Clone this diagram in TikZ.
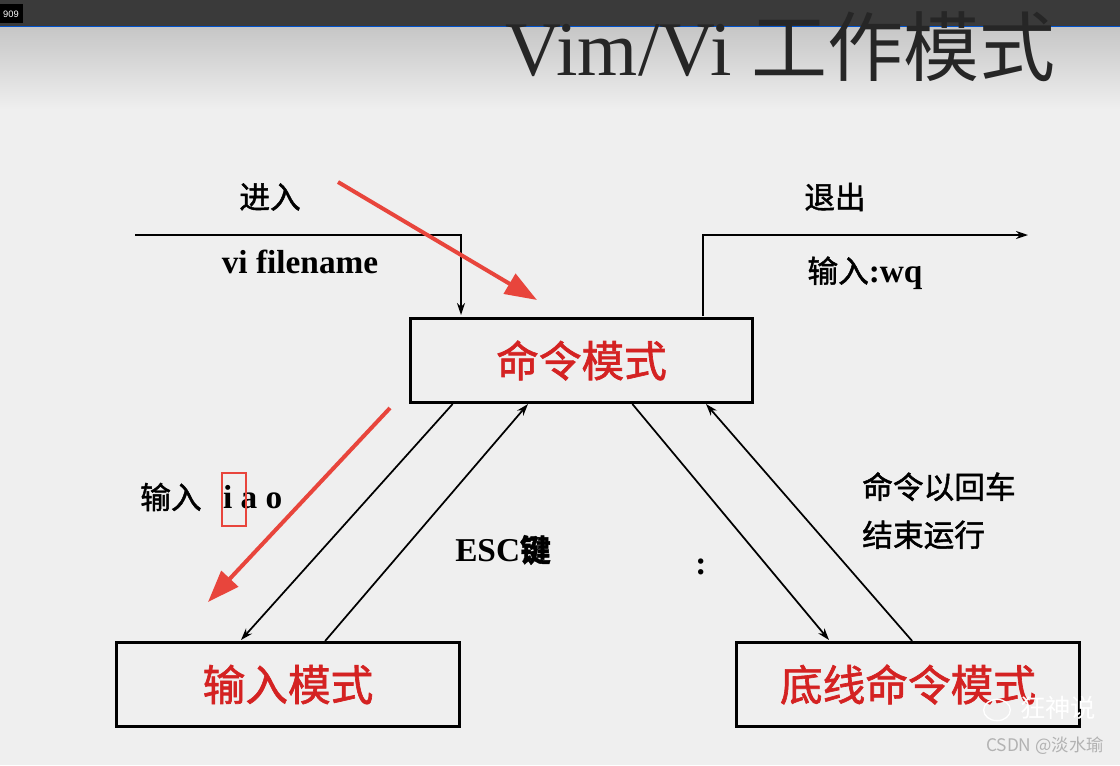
\documentclass[tikz,border=0pt]{standalone}
\usepackage{fontspec}
\setmainfont{Liberation Serif}
\newfontfamily\cjk{Noto Sans CJK SC}[FakeBold=1.5]
\newfontfamily\cjkl{Noto Sans CJK SC}
\newfontfamily\sans{Liberation Sans}
\usetikzlibrary{arrows.meta,shapes.geometric}
\definecolor{bg}{HTML}{EFEFEF}
\definecolor{bar}{HTML}{3A3A3A}
\definecolor{redt}{HTML}{D42222}
\definecolor{reda}{HTML}{E8453C}
\begin{document}
\begin{tikzpicture}[x=0.75pt,y=-0.75pt,
  box/.style={draw=black,line width=2.3pt,fill=bg,minimum width=257pt,minimum height=63pt,inner sep=0pt,text=redt,font=\cjk\fontsize{32}{33}\selectfont},
  conn/.style={line width=1.3pt,-{Stealth[length=9pt,width=6pt]}},
  redarrow/.style={reda,line width=3pt,-{Triangle[length=24pt,width=17pt]}},
  lab/.style={font=\cjk\fontsize{23}{26}\selectfont,inner sep=0pt}]
\useasboundingbox (0,0) rectangle (1120,765);
\fill[bg] (0,0) rectangle (1120,765);
\shade[top color=gray!45,bottom color=bg] (0,26) rectangle (1120,110);
\fill[bar] (0,0) rectangle (1120,26);
\draw[blue!60!cyan!80!black,line width=1.2pt] (0,26.5) -- (1120,26.5);
\fill[black] (0,4) rectangle (23,23);
\node[text=white,font=\sans\fontsize{7}{8}\selectfont,inner sep=0pt] (num) at (11,14) {909};
\node[anchor=base west,inner sep=0pt,text=black!85,font=\fontsize{58}{60}\selectfont] (title) at (505,75) {Vim/Vi {\cjkl\fontsize{57}{60}\selectfont 工作模式}};
% boxes
\node[box] (cmd) at (581.5,360.5) {命令模式};
\node[box] (ins) at (288,684.5) {输入模式};
\node[box] (last) at (908,684.5) {底线命令模式};
% enter
\coordinate (e0) at (135,235);
\draw[conn] (e0) -- (461,235) -- (461,315);
\node[lab] (enter) at (270,197) {进入};
\node[inner sep=0pt,font=\bfseries\fontsize{25}{26}\selectfont] (vif) at (300,262) {vi filename};
% exit
\coordinate (x1) at (1028,235);
\draw[conn] (703,316) -- (703,235) -- (x1);
\node[lab] (exit) at (835,197) {退出};
\node[inner sep=0pt,font=\cjk\fontsize{23}{26}\selectfont] (wq) at (865,273) {输入{\bfseries\rmfamily\fontsize{25}{26}\selectfont :wq}};
% mode arrows
\draw[conn] (cmd.south west)++(44,0) -- (241,640);
\draw[conn] (ins.north west)++(210,0) -- (528,404);
\draw[conn] (cmd.south east)++(-122,0) -- (829,640);
\draw[conn] (last.north west)++(177,0) -- (706,404);
% labels
\node[anchor=west,inner sep=0pt,font=\cjk\fontsize{23}{26}\selectfont] (iao) at (140,497) {输入 {\bfseries\rmfamily\fontsize{25}{26}\selectfont\hspace{11pt}i a o}};
\draw[reda,line width=1.5pt] (222,473) rectangle (246,526);
\node[inner sep=0pt,font=\bfseries\fontsize{25}{26}\selectfont] (esc) at (503,550) {ESC{\cjk\fontsize{23}{26}\selectfont 键}};
\node[inner sep=0pt,font=\bfseries\fontsize{25}{26}\selectfont] (colon) at (701,567) {:};
\node[anchor=north west,align=left,inner sep=0pt,font=\cjk\fontsize{23}{36}\selectfont] (enterl) at (862,472) {命令以回车\\结束运行};
% red annotation arrows
\draw[redarrow] (338,182) -- (537,300);
\draw[redarrow] (390,408) -- (208,602);
% watermark
\node[anchor=west,inner sep=0pt,text=white,font=\cjkl\fontsize{19}{20}\selectfont] (wm) at (1020,708) {狂神说};
\node[draw=white,line width=1pt,ellipse,minimum width=20pt,minimum height=16pt,inner sep=0pt] (wmicon) at (997,710) {};
\node[anchor=east,inner sep=0pt,text=black!30,font=\cjkl\fontsize{13}{14}\selectfont] (csdn) at (1104,746) {CSDN @淡水瑜};
\end{tikzpicture}
\end{document}
